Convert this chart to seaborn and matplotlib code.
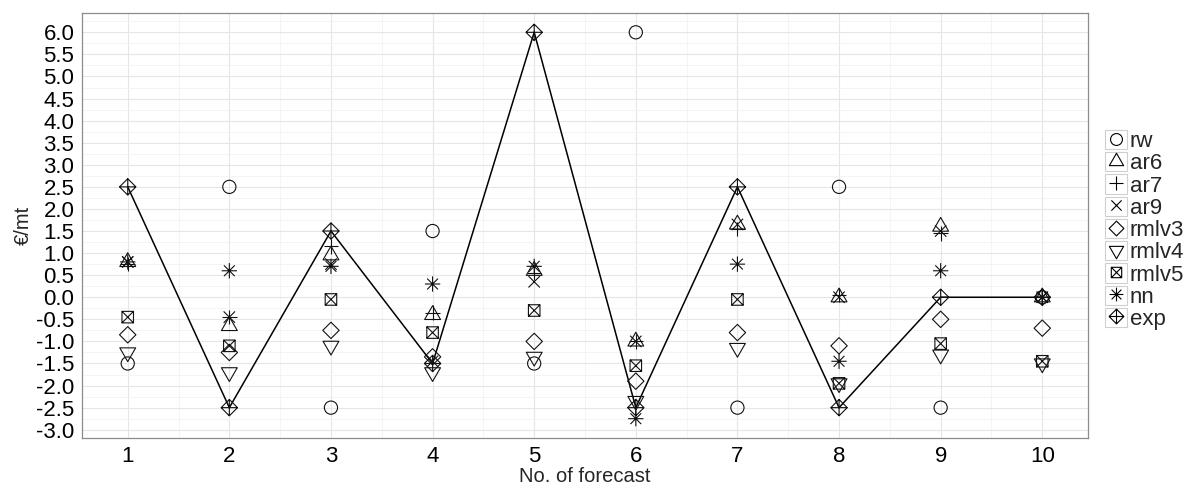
import numpy as np
import pandas as pd
import matplotlib
matplotlib.use("Agg")
import matplotlib.pyplot as plt
from matplotlib.path import Path
from matplotlib.lines import Line2D
from matplotlib.patches import Rectangle
from matplotlib.legend_handler import HandlerTuple
from matplotlib.ticker import MultipleLocator, FormatStrFormatter
import seaborn as sns

# Forecast errors per model (€/mt) for forecasts 1..10
forecast = list(range(1, 11))
rw    = [-1.5, 2.5, -2.5, 1.5, -1.5, 6.0, -2.5, 2.5, -2.5, 0.0]
ar6   = [0.8, -0.65, 0.95, -0.4, 0.6, -1.0, 1.65, 0.0, 1.6, 0.0]
ar7   = [0.75, -0.45, 1.15, -0.35, 0.55, -1.0, 1.55, 0.05, 1.45, 0.0]
ar9   = [0.8, -0.45, 0.75, -1.45, 0.35, -1.0, 1.65, 0.0, 1.5, 0.0]
rmlv3 = [-0.85, -1.25, -0.75, -1.35, -1.0, -1.9, -0.8, -1.1, -0.5, -0.7]
rmlv4 = [-1.25, -1.7, -1.1, -1.7, -1.35, -2.35, -1.15, -1.95, -1.3, -1.5]
rmlv5 = [-0.45, -1.1, -0.05, -0.8, -0.3, -1.55, -0.05, -1.95, -1.05, -1.45]
nn    = [0.8, 0.6, 0.7, 0.3, 0.7, -2.75, 0.75, -1.45, 0.6, 0.0]
exp   = [2.5, -2.5, 1.5, -1.5, 6.0, -2.5, 2.5, -2.5, 0.0, 0.0]

models = ["rw", "ar6", "ar7", "ar9", "rmlv3", "rmlv4", "rmlv5", "nn", "exp"]
series = [rw, ar6, ar7, ar9, rmlv3, rmlv4, rmlv5, nn, exp]

df = pd.DataFrame({
    "forecast": np.tile(forecast, len(models)),
    "value": np.concatenate(series),
    "model": np.repeat(models, len(forecast)),
})


def make_path(polys, closed):
    verts, codes = [], []
    for poly, cl in zip(polys, closed):
        verts.extend(poly)
        codes.extend([Path.MOVETO] + [Path.LINETO] * (len(poly) - 1))
        if cl:
            verts.append(poly[0])
            codes.append(Path.CLOSEPOLY)
    return Path(verts, codes)


s2 = np.sqrt(0.5)
plus = [[(-1, 0), (1, 0)], [(0, -1), (0, 1)]]
cross = [[(-1, -1), (1, 1)], [(-1, 1), (1, -1)]]
small_cross = [[(-s2, -s2), (s2, s2)], [(-s2, s2), (s2, -s2)]]
diamond = [(0, 1), (1, 0), (0, -1), (-1, 0)]
square = [(-1, -1), (1, -1), (1, 1), (-1, 1)]

marker_map = {
    "rw": Path.unit_circle(),
    "ar6": make_path([[(0, 1), (0.866, -0.5), (-0.866, -0.5)]], [True]),
    "ar7": make_path(plus, [False, False]),
    "ar9": make_path(cross, [False, False]),
    "rmlv3": make_path([diamond], [True]),
    "rmlv4": make_path([[(0, -1), (0.866, 0.5), (-0.866, 0.5)]], [True]),
    "rmlv5": make_path([square] + cross, [True, False, False]),
    "nn": make_path(plus + small_cross, [False] * 4),
    "exp": make_path([diamond] + plus, [True, False, False]),
}
# marker sizes in points
size_pt = {"rw": 9.5, "ar6": 13.2, "ar7": 10.5, "ar9": 8.2, "rmlv3": 11.8,
           "rmlv4": 13.2, "rmlv5": 8.3, "nn": 11.0, "exp": 11.8}

sns.set_style("white")
plt.rcParams["font.family"] = ["Liberation Sans", "DejaVu Sans"]

fig = plt.figure(figsize=(11.89, 4.88), dpi=100)
ax = fig.add_axes([82 / 1189, 1 - 438 / 488, (1088 - 82) / 1189, (438 - 13) / 488])

sns.lineplot(x=forecast, y=exp, color="black", linewidth=1.1, ax=ax, zorder=2)
sns.scatterplot(data=df, x="forecast", y="value", style="model", style_order=models,
                markers=marker_map, size="model", size_order=models,
                sizes={m: size_pt[m] ** 2 for m in models},
                legend=False, ax=ax, linewidth=0.8, edgecolor="black", zorder=3)
for coll in ax.collections:
    coll.set_facecolor("none")
    coll.set_edgecolor("#111111")

ax.set_xlim(0.55, 10.45)
ax.set_ylim(-3.1875, 6.4375)
ax.xaxis.set_major_locator(MultipleLocator(1))
ax.xaxis.set_minor_locator(MultipleLocator(0.5))
ax.yaxis.set_major_locator(MultipleLocator(0.5))
ax.yaxis.set_minor_locator(MultipleLocator(0.25))
ax.yaxis.set_major_formatter(FormatStrFormatter("%.1f"))
ax.grid(True, which="major", color="#e6e6e6", linewidth=0.8)
ax.grid(True, which="minor", color="#f3f3f3", linewidth=0.6)
ax.set_axisbelow(True)
for sp in ax.spines.values():
    sp.set_color("#8c8c8c")
    sp.set_linewidth(0.9)
ax.tick_params(which="major", length=3.5, width=0.8, color="#333333",
               labelsize=16, labelcolor="black", pad=2)
ax.tick_params(which="minor", length=0)
ax.set_xlabel("No. of forecast", fontsize=14.5, labelpad=0)
ax.set_ylabel("€/mt", fontsize=14.5, labelpad=2)

handles = []
for m in models:
    box = Rectangle((0, 0), 1, 1, facecolor="white", edgecolor="#cfcfcf", linewidth=0.8)
    mk = Line2D([], [], linestyle="none", marker=marker_map[m], markersize=size_pt[m] * 0.9,
                markerfacecolor="none", markeredgecolor="black", markeredgewidth=0.8)
    handles.append((box, mk))
ax.legend(handles, models, handler_map={tuple: HandlerTuple(ndivide=1, pad=0)},
          loc="upper left", bbox_to_anchor=(1105 / 1189, 1 - 130 / 488),
          bbox_transform=fig.transFigure, frameon=False, fontsize=16,
          handlelength=1.0, handleheight=0.95, handletextpad=0.12,
          labelspacing=0.0, borderpad=0, borderaxespad=0)

fig.savefig("out.png", dpi=100)
